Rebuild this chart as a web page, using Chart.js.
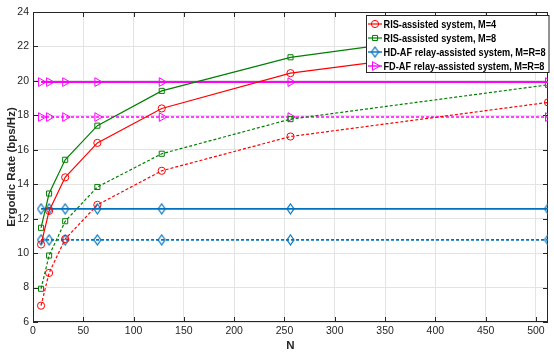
<!DOCTYPE html>
<html>
<head>
<meta charset="utf-8">
<script src="https://cdn.jsdelivr.net/npm/chart.js@4/dist/chart.umd.min.js"></script>
<style>
  html, body { margin: 0; padding: 0; background: #fff; }
  #wrap { width: 554px; height: 353px; }
</style>
</head>
<body>
<div id="wrap"><canvas id="rateChart"></canvas></div>
<script>
// number of reflecting elements N
const nValues = [8, 16, 32, 64, 128, 256, 512];

// ergodic rate (bps/Hz), solid = one setting, dashed = the other
const risM4 = [10.5, 12.45, 14.4, 16.4, 18.4, 20.45, 22.38];
const risM8 = [11.47, 13.46, 15.42, 17.4, 19.42, 21.37, 23.38];
const hdAf = [12.57, 12.57, 12.57, 12.57, 12.57, 12.57, 12.57];
const fdAf = [19.93, 19.93, 19.93, 19.93, 19.93, 19.93, 19.93];

const risM4Dash = [6.95, 8.85, 10.82, 12.8, 14.78, 16.77, 18.75];
const risM8Dash = [7.93, 9.86, 11.85, 13.84, 15.77, 17.78, 19.77];
const hdAfDash = [10.77, 10.77, 10.77, 10.77, 10.77, 10.77, 10.77];
const fdAfDash = [17.9, 17.9, 17.9, 17.9, 17.9, 17.9, 17.9];

const legendLabels = [
  'RIS-assisted system, M=4',
  'RIS-assisted system, M=8',
  'HD-AF relay-assisted system, M=R=8',
  'FD-AF relay-assisted system, M=R=8'
];

const xTicks = [0, 50, 100, 150, 200, 250, 300, 350, 400, 450, 500];

const RED = '#FF0000', GREEN = '#008000', BLUE = '#0072BD', MAG = '#FF00FF';

// narrow diamond marker like matlab's 'd'
function diamond(color) {
  const c = document.createElement('canvas');
  c.width = 9; c.height = 12;
  const g = c.getContext('2d');
  g.strokeStyle = color; g.lineWidth = 1.2;
  g.beginPath();
  g.moveTo(4.5, 1); g.lineTo(8, 6); g.lineTo(4.5, 11); g.lineTo(1, 6); g.closePath();
  g.stroke();
  return c;
}
const blueDiamond = diamond(BLUE);

function pts(ys) { return nValues.map((n, i) => ({ x: n, y: ys[i] })); }

function series(label, ys, color, style, dashed, width, extra) {
  return Object.assign({
    label: label,
    data: pts(ys),
    showLine: true,
    borderColor: color,
    backgroundColor: 'rgba(0,0,0,0)',
    borderWidth: width,
    borderDash: dashed ? [3, 2] : [],
    pointStyle: style,
    pointRadius: 3.6,
    pointBorderWidth: 1,
    pointBorderColor: color,
    pointBackgroundColor: 'rgba(0,0,0,0)',
    inLegend: !dashed
  }, extra || {});
}

const datasets = [
  series(legendLabels[0], risM4, RED, 'circle', false, 1.2),
  series(legendLabels[1], risM8, GREEN, 'rect', false, 1.2),
  series(legendLabels[2], hdAf, BLUE, blueDiamond, false, 1.6),
  series(legendLabels[3], fdAf, MAG, 'triangle', false, 2, { pointRotation: 90, pointRadius: 5 }),
  series(legendLabels[0], risM4Dash, RED, 'circle', true, 1.2),
  series(legendLabels[1], risM8Dash, GREEN, 'rect', true, 1.2),
  series(legendLabels[2], hdAfDash, BLUE, blueDiamond, true, 1.6),
  series(legendLabels[3], fdAfDash, MAG, 'triangle', true, 1.6, { pointRotation: 90, pointRadius: 5 })
];

// axes box with inward ticks on all four sides
const boxPlugin = {
  id: 'box',
  beforeDatasetsDraw(chart) {
    const { ctx, chartArea: a, scales } = chart;
    ctx.save();
    ctx.strokeStyle = '#262626';
    ctx.lineWidth = 1;
    ctx.strokeRect(a.left + 0.5, a.top + 0.5, a.right - a.left - 1, a.bottom - a.top - 1);
    ctx.beginPath();
    scales.x.ticks.forEach(t => {
      const px = Math.round(scales.x.getPixelForValue(t.value)) + 0.5;
      ctx.moveTo(px, a.bottom); ctx.lineTo(px, a.bottom - 5);
      ctx.moveTo(px, a.top); ctx.lineTo(px, a.top + 5);
    });
    scales.y.ticks.forEach(t => {
      const py = Math.round(scales.y.getPixelForValue(t.value)) + 0.5;
      ctx.moveTo(a.left, py); ctx.lineTo(a.left + 5, py);
      ctx.moveTo(a.right, py); ctx.lineTo(a.right - 5, py);
    });
    ctx.stroke();
    ctx.restore();
  }
};

// legend box in the upper right corner
const legendPlugin = {
  id: 'boxLegend',
  afterDatasetsDraw(chart) {
    const ctx = chart.ctx;
    const items = chart.data.datasets.filter(d => d.inLegend);
    const x0 = 366.5, y0 = 15.5, w = 182.5, h = 57;
    const textX = 383.5, textW = 162;
    ctx.save();
    ctx.fillStyle = '#fff';
    ctx.fillRect(x0, y0, w, h);
    ctx.strokeStyle = '#262626';
    ctx.lineWidth = 1;
    ctx.strokeRect(x0, y0, w, h);
    ctx.font = 'bold 11px "Liberation Sans", Arial, sans-serif';
    ctx.textBaseline = 'middle';
    // squeeze the labels so the longest one fits the box
    const widest = Math.max(...items.map(d => ctx.measureText(d.label).width));
    const sx = Math.min(1, textW / widest);
    items.forEach((d, i) => {
      const y = 24 + i * 14;
      ctx.strokeStyle = d.borderColor;
      ctx.lineWidth = Math.min(d.borderWidth, 1.4);
      ctx.setLineDash([]);
      ctx.beginPath();
      ctx.moveTo(368, y); ctx.lineTo(382, y);
      ctx.stroke();
      ctx.lineWidth = 1;
      ctx.fillStyle = 'rgba(0,0,0,0)';
      Chart.helpers.drawPoint(ctx, {
        pointStyle: d.pointStyle,
        rotation: d.pointRotation || 0,
        radius: d.pointRadius,
        borderWidth: 1
      }, 375, y);
      ctx.save();
      ctx.translate(textX, y + 0.5);
      ctx.scale(sx, 1);
      ctx.fillStyle = '#000';
      ctx.fillText(d.label, 0, 0);
      ctx.restore();
    });
    ctx.restore();
  }
};

const tickFont = { family: '"Liberation Sans", Arial, sans-serif', size: 10.5 };
const titleFont = { family: '"Liberation Sans", Arial, sans-serif', size: 11.5, weight: 'bold' };

new Chart(document.getElementById('rateChart'), {
  type: 'scatter',
  data: { datasets: datasets },
  options: {
    responsive: true,
    maintainAspectRatio: false,
    animation: false,
    layout: { padding: { left: 0, top: 12, right: 2, bottom: 0 } },
    scales: {
      x: {
        type: 'linear',
        min: 0,
        max: 512,
        afterBuildTicks: s => { s.ticks = xTicks.map(v => ({ value: v })); },
        afterFit: s => { s.height = 31; },
        ticks: { color: '#262626', font: tickFont, padding: 3, maxRotation: 0 },
        grid: { color: '#e3e3e3', drawTicks: false },
        border: { display: false },
        title: { display: true, text: 'N', color: '#262626', font: titleFont, padding: { top: 0, bottom: 0 } }
      },
      y: {
        min: 6,
        max: 24,
        afterFit: s => { s.width = 33; },
        ticks: { stepSize: 2, color: '#262626', font: tickFont, padding: 4 },
        grid: { color: '#e3e3e3', drawTicks: false },
        border: { display: false },
        title: { display: true, text: 'Ergodic Rate (bps/Hz)', color: '#262626', font: titleFont, padding: { top: 5, bottom: 0 } }
      }
    },
    plugins: {
      legend: { display: false },
      tooltip: { enabled: false }
    }
  },
  plugins: [boxPlugin, legendPlugin]
});
</script>
</body>
</html>
